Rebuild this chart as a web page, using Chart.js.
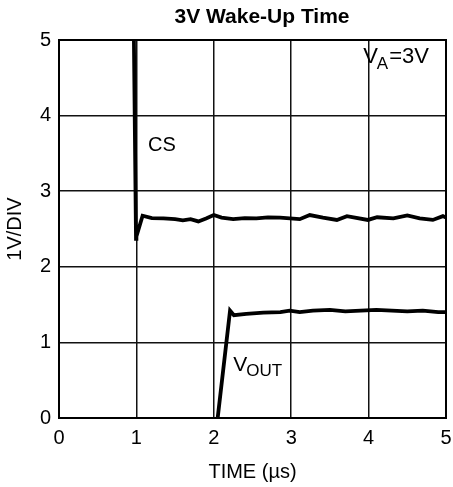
<!DOCTYPE html>
<html><head><meta charset="utf-8">
<script src="https://cdn.jsdelivr.net/npm/chart.js@4"></script>
<style>html,body{margin:0;padding:0;background:#fff}</style>
</head><body>
<canvas id="c" width="453" height="487"></canvas>
<script>
const chartTitle = '3V Wake-Up Time';
const xTitle = 'TIME (µs)';
const yTitle = '1V/DIV';
const xTicks = [0, 1, 2, 3, 4, 5];
const yTicks = [0, 1, 2, 3, 4, 5];
const csTime = [0.968, 0.995, 1.0, 1.08, 1.2, 1.35, 1.5, 1.6, 1.7, 1.8, 1.9, 2.0, 2.1, 2.25, 2.4, 2.55, 2.7, 2.855, 3.11, 3.24, 3.41, 3.59, 3.72, 3.99, 4.11, 4.32, 4.50, 4.66, 4.83, 4.96, 5.0];
const csVolt = [5.0, 2.37, 2.40, 2.675, 2.645, 2.64, 2.63, 2.615, 2.63, 2.60, 2.64, 2.685, 2.65, 2.63, 2.645, 2.64, 2.655, 2.65, 2.63, 2.685, 2.65, 2.62, 2.67, 2.62, 2.655, 2.64, 2.68, 2.64, 2.62, 2.67, 2.65];
const voutTime = [2.05, 2.21, 2.26, 2.42, 2.64, 2.86, 2.98, 3.11, 3.28, 3.5, 3.7, 3.9, 4.1, 4.3, 4.5, 4.7, 4.9, 5.0];
const voutVolt = [0, 1.42, 1.36, 1.376, 1.393, 1.40, 1.42, 1.40, 1.42, 1.43, 1.41, 1.42, 1.43, 1.42, 1.41, 1.42, 1.40, 1.40];

const FONT = "'Liberation Sans', Arial, Helvetica, sans-serif";
const toPts = (xs, ys) => xs.map((x, i) => ({x: x, y: ys[i]}));

const textPlugin = {
  id: 'texts',
  afterDraw(chart) {
    const ctx = chart.ctx, xs = chart.scales.x, ys = chart.scales.y;
    ctx.save();
    ctx.fillStyle = '#000';
    ctx.textBaseline = 'middle';
    ctx.textAlign = 'center';
    ctx.font = 'bold 21px ' + FONT;
    ctx.fillText(chartTitle, 262, 17);
    ctx.textAlign = 'left';
    ctx.textBaseline = 'alphabetic';
    // CS label
    ctx.font = '20px ' + FONT;
    ctx.fillText('CS', xs.getPixelForValue(1.15), ys.getPixelForValue(3.53));
    // VOUT label
    let x = xs.getPixelForValue(2.25), y = ys.getPixelForValue(0.62);
    ctx.font = '21px ' + FONT;
    ctx.fillText('V', x, y);
    x += ctx.measureText('V').width;
    ctx.font = '17px ' + FONT;
    ctx.fillText('OUT', x - 1, y + 5);
    // VA=3V
    x = xs.getPixelForValue(3.93); y = ys.getPixelForValue(4.70);
    ctx.font = '22px ' + FONT;
    ctx.fillText('V', x, y);
    x += ctx.measureText('V').width;
    ctx.font = '17px ' + FONT;
    ctx.fillText('A', x - 1, y + 6);
    x += ctx.measureText('A').width;
    ctx.font = '22px ' + FONT;
    ctx.fillText('=3V', x, y);
    ctx.restore();
  }
};

new Chart(document.getElementById('c'), {
  type: 'scatter',
  data: {
    datasets: [
      {label: 'CS', data: toPts(csTime, csVolt), showLine: true, borderColor: '#000', borderWidth: 3.8, pointRadius: 0, tension: 0},
      {label: 'VOUT', data: toPts(voutTime, voutVolt), showLine: true, borderColor: '#000', borderWidth: 3.8, pointRadius: 0, tension: 0}
    ]
  },
  options: {
    responsive: false,
    animation: false,
    devicePixelRatio: 1,
    layout: {padding: {top: 40, right: 7, left: 0, bottom: 0}},
    plugins: {legend: {display: false}, title: {display: false}, tooltip: {enabled: false}},
    scales: {
      x: {
        type: 'linear', min: 0, max: 5,
        afterFit(s) { s.height = 69; s.paddingLeft = 0; s.paddingRight = 0; },
        afterBuildTicks(s) { s.ticks = xTicks.map(v => ({value: v})); },
        ticks: {color: '#000', font: {family: FONT, size: 20}, padding: 8, callback: v => String(v)},
        grid: {color: '#111', lineWidth: 1.5, drawTicks: false},
        border: {color: '#000', width: 2},
        title: {display: true, text: xTitle, color: '#000', font: {family: FONT, size: 20}, padding: {top: 0, bottom: 3}}
      },
      y: {
        type: 'linear', min: 0, max: 5,
        afterFit(s) { s.width = 59; s.paddingTop = 0; s.paddingBottom = 0; },
        afterBuildTicks(s) { s.ticks = yTicks.map(v => ({value: v})); },
        ticks: {color: '#000', font: {family: FONT, size: 20}, padding: 8, callback: v => String(v)},
        grid: {color: '#111', lineWidth: 1.5, drawTicks: false},
        border: {color: '#000', width: 2},
        title: {display: true, text: yTitle, color: '#000', font: {family: FONT, size: 20}, padding: {top: 3, bottom: 0}}
      }
    }
  },
  plugins: [textPlugin, {
    id: 'frame',
    afterDatasetsDraw(chart) {
      const a = chart.chartArea, ctx = chart.ctx;
      ctx.save();
      ctx.strokeStyle = '#000';
      ctx.lineWidth = 2;
      ctx.strokeRect(a.left, a.top, a.right - a.left, a.bottom - a.top);
      ctx.restore();
    }
  }]
});
</script>
</body></html>
